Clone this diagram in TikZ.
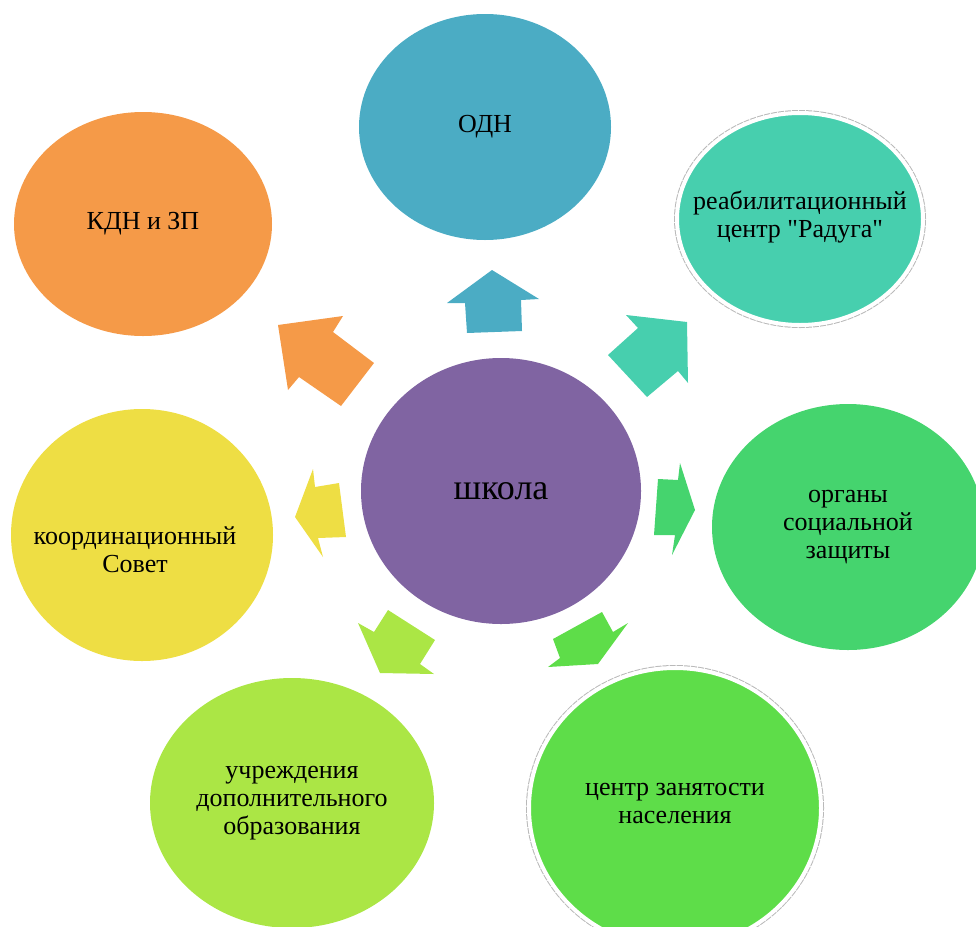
\documentclass[tikz,border=0pt]{standalone}
\usepackage{fontspec}
\setmainfont{Liberation Serif}[Ligatures=TeXOff]
\usetikzlibrary{shapes.geometric}
\definecolor{odn}{HTML}{4BACC4}
\definecolor{kdn}{HTML}{F59A48}
\definecolor{raduga}{HTML}{47CFAE}
\definecolor{shkola}{HTML}{8064A2}
\definecolor{organy}{HTML}{45D46E}
\definecolor{koord}{HTML}{EEDE44}
\definecolor{uchr}{HTML}{ABE645}
\definecolor{zanyat}{HTML}{5EDD49}
\tikzset{
  blob/.style={ellipse,inner sep=0pt},
  lbl/.style={align=center,font=\rmfamily\fontsize{26}{28}\selectfont},
  ring/.style={draw=white,line width=4pt,preaction={draw=gray!55,densely dotted,line width=6pt}}
}
\begin{document}
\begin{tikzpicture}[x=1pt,y=-1pt]
\useasboundingbox (0,0) rectangle (976,926);
\node[blob,fill=odn,minimum width=252pt,minimum height=226pt,label={[lbl]center:ОДН}] (odn) at (485,127) {};
\node[blob,fill=kdn,minimum width=258pt,minimum height=224pt,label={[lbl]center:КДН и ЗП}] (kdn) at (143,224) {};
\node[blob,ring,fill=raduga,minimum width=246pt,minimum height=212pt,label={[lbl,yshift=2pt]center:реабилитационный\\центр "Радуга"}] (raduga) at (800,219) {};
\node[blob,fill=shkola,minimum width=280pt,minimum height=266pt,label={[lbl,font=\rmfamily\fontsize{36}{40}\selectfont]center:школа}] (shkola) at (501,491) {};
\node[blob,fill=organy,minimum width=272pt,minimum height=246pt,label={[lbl]center:органы\\социальной\\защиты}] (organy) at (848,527) {};
\node[blob,fill=koord,minimum width=262pt,minimum height=252pt,label={[lbl,xshift=-7pt,yshift=-15pt]center:координационный\\Совет}] (koord) at (142,535) {};
\node[blob,fill=uchr,minimum width=284pt,minimum height=250pt,label={[lbl]center:учреждения\\дополнительного\\образования}] (uchr) at (292,803) {};
\node[blob,ring,fill=zanyat,minimum width=292pt,minimum height=280pt,label={[lbl,yshift=5pt]center:центр занятости\\населения}] (zanyat) at (675,808) {};

\fill[odn] (492,270) -- (539,299) -- (521,300) -- (522,331) -- (467,333) -- (465,303) -- (447,303) -- cycle;
\fill[kdn] (278,325) -- (343,316) -- (333,332) -- (374,363) -- (341,406) -- (299,377) -- (288,390) -- cycle;
\fill[raduga] (626,315) -- (687,322) -- (688,383) -- (678,371) -- (647,397) -- (608,355) -- (638,328) -- cycle;
\fill[organy] (680,463) -- (695,510) -- (672,555) -- (675,535) -- (654,535) -- (658,479) -- (678,480) -- cycle;
\fill[koord] (313,469) -- (315,487) -- (339,483) -- (346,537) -- (318,538) -- (323,557) -- (295,517) -- cycle;
\fill[uchr] (388,610) -- (435,640) -- (420,664) -- (434,674) -- (380,673) -- (358,623) -- (374,632) -- cycle;
\fill[zanyat] (553,639) -- (602,612) -- (613,632) -- (628,623) -- (598,664) -- (548,667) -- (560,658) -- cycle;
\end{tikzpicture}
\end{document}
